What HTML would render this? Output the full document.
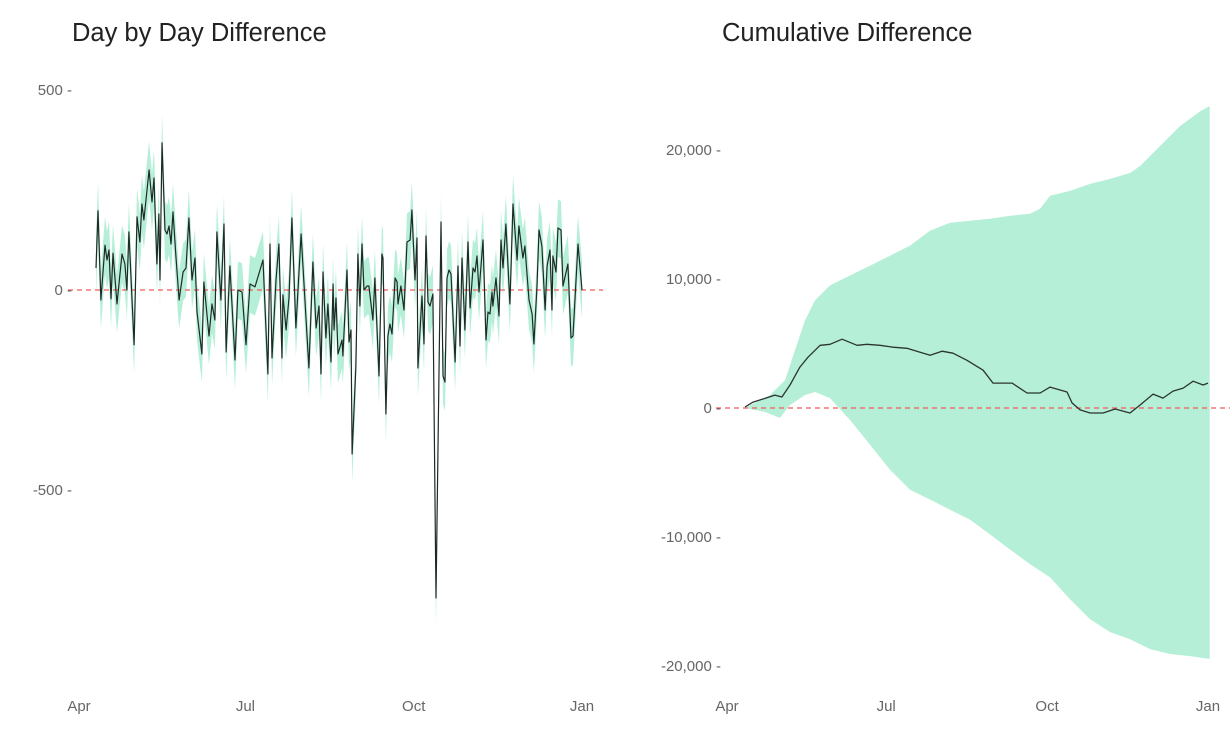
<!DOCTYPE html>
<html><head><meta charset="utf-8">
<style>
html,body{margin:0;padding:0;background:#fff;}
svg{display:block;font-family:"Liberation Sans",sans-serif;}
.tick{fill:#666;font-size:15px;}
.title{fill:#222;font-size:25.5px;}
</style></head>
<body>
<svg id="chart" width="1230" height="738"></svg>
<script>
// ---- Left chart data (days since Apr 1) ----
const dailyDays=[9.3,10.4,12.0,14.2,15.3,16.4,17.5,18.6,20.8,23.5,25.1,26.2,27.3,30.1,31.7,33.3,34.4,35.5,38.3,39.9,41,42.6,43.7,44.3,45.4,47,48.1,49.2,50.3,51.4,53,54.7,56.9,58.5,60.1,61.8,63.4,64.5,67.2,68.3,71.1,72.7,74.3,75.4,77.6,79.3,80.4,82.5,85.3,86.9,89.1,91.3,93.5,96.2,100.6,103.3,104.4,105.5,107.7,109.3,111,111.5,113.2,114.8,116.4,118.6,121.4,123,125.7,127.9,129.6,131.2,132.3,133.4,135,136.1,137.8,138.9,139.4,140.5,141.6,143.8,144.3,146.5,147.6,148.7,149.3,151.4,152.5,153.6,154.7,155.8,157.5,158.5,160.7,161.8,164,165.6,166.2,167.8,168.9,170,171.1,172.8,173.9,174.4,176,177.7,179.3,181,182,183.7,184.8,185.3,187.5,188.6,189.7,190.8,191.9,193.5,195.2,197.9,199,200.1,201.2,202.3,203.4,205.6,207.2,208.3,209.4,211,212.7,213.8,215.4,216.5,217.6,218.7,220.9,222.5,223.6,224.7,225.8,226.3,228,229.6,230.7,231.8,233.4,235.6,237.3,239.5,240.5,242.7,243.8,246,247.7,248.7,250.4,251.5,253.1,254.8,255.9,257.5,258.6,259.1,260.8,261.9,263.5,264.6,267.3,269,270.1,272.8,275];
const dailyValues=[55,198,-25,112,75,100,-22,92,-35,90,65,0,145,-137,183,120,215,175,300,220,280,65,190,25,368,150,140,160,115,195,85,-25,45,55,180,25,80,-55,-160,20,-115,-35,-75,145,-25,165,-155,60,-175,0,-5,-137,15,8,75,-210,115,-170,25,115,-170,-12,-100,-20,180,-95,140,15,-195,70,-95,-40,-210,45,-120,-35,-180,15,-100,-20,-160,-125,-165,50,-130,-100,-410,-190,90,-40,115,0,10,10,-75,30,-215,90,80,-310,-115,-85,-110,30,20,-35,10,-50,120,125,200,25,130,-195,-15,-135,135,-30,-40,-10,-770,170,-215,-230,30,50,40,-180,60,-140,80,-100,120,-45,55,45,85,-5,125,-125,-55,-60,-5,-40,30,-65,125,55,165,-35,215,75,160,80,110,-25,-60,-135,10,150,110,-50,60,100,-50,85,45,155,150,10,65,-120,-115,115,0];
const dailyBandHalf=72;
const leftYTicks=[500,0,-500];
const xTickLabels=["Apr","Jul","Oct","Jan"];
const xTickDays=[0,91,183,275];

// ---- Right chart data ----
const cumDays=[10.3,14.9,20.6,27.4,31.4,36,41.7,46.3,53.2,58.9,65.8,74.3,80,87.5,94.9,102.9,110.4,116.1,122.9,129.2,137.2,146.4,152.1,163,171.5,179,184.7,194.4,197.3,201.9,207.6,215,221.9,230.4,236.2,243.6,249.3,255,260.8,266.5,272.2,275];
const cumValues=[80,460,700,1000,850,1780,3170,3940,4860,4940,5330,4860,4940,4860,4710,4630,4320,4090,4400,4250,3700,2930,1930,1930,1160,1160,1620,1240,390,-150,-390,-390,-80,-390,230,1080,770,1310,1540,2080,1780,1930];
const upperDays=[10.3,24.6,33.2,38.9,44.6,50.3,58.9,70.3,81.8,93.2,104.6,116.1,127.5,138.9,150.4,161.8,173.3,179,184.7,196.1,207.6,219,230.4,236.2,247.6,259,270.5,276];
const upperValues=[0,1000,2160,4480,6790,8340,9500,10270,11040,11810,12590,13750,14360,14520,14670,14900,15060,15440,16450,16830,17370,17760,18220,18760,20310,21850,23010,23400];
const lowerDays=[10.3,21.7,30.3,36,44.6,50.3,58.9,70.3,81.8,93.2,104.6,116.1,127.5,138.9,150.4,161.8,173.3,184.7,196.1,207.6,219,230.4,241.9,253.3,264.8,276];
const lowerValues=[0,-310,-770,230,1000,1240,770,-930,-2860,-4790,-6330,-7100,-7880,-8650,-9810,-10970,-12120,-13130,-14830,-16370,-17370,-17920,-18690,-19070,-19230,-19460];
const rightYTicks=[20000,10000,0,-10000,-20000];

const NS="http://www.w3.org/2000/svg";
const svg=document.getElementById('chart');
function mk(tag,attrs,parent){const e=document.createElementNS(NS,tag);for(const k in attrs)e.setAttribute(k,attrs[k]);(parent||svg).appendChild(e);return e;}

const lx=d=>79+d*(582-79)/275;
const ly=v=>290-v*0.4;
const rx=d=>727+d*(1208-727)/275;
const ry=v=>408-v*(408-279)/10000;

// ---- Left chart ----
const gL=mk('g',{});


const tL=mk('text',{x:72,y:41,class:'title'},gL);tL.textContent='Day by Day Difference';


let up='',lo='';
dailyDays.forEach((d,i)=>{up+=(i?'L':'M')+lx(d).toFixed(1)+','+ly(dailyValues[i]+dailyBandHalf).toFixed(1);});
for(let i=dailyDays.length-1;i>=0;i--){lo+='L'+lx(dailyDays[i]).toFixed(1)+','+ly(dailyValues[i]-dailyBandHalf).toFixed(1);}
const bandL=mk('path',{d:up+lo+'Z',fill:'#b6efd8'},gL);


const zl=mk('line',{x1:68,x2:603,y1:ly(0),y2:ly(0),stroke:'#f25a5a','stroke-width':1.2,'stroke-dasharray':'5,4'},gL);


let dl='';dailyDays.forEach((d,i)=>{dl+=(i?'L':'M')+lx(d).toFixed(1)+','+ly(dailyValues[i]).toFixed(1);});
const lineL=mk('path',{d:dl,fill:'none',stroke:'#1e2a26','stroke-width':1.2,'stroke-linejoin':'round'},gL);


leftYTicks.forEach(v=>{const t=mk('text',{x:72,y:ly(v)+5,class:'tick','text-anchor':'end'},gL);t.textContent=v+' -';

});
xTickLabels.forEach((s,i)=>{const t=mk('text',{x:lx(xTickDays[i]),y:711,class:'tick','text-anchor':'middle'},gL);t.textContent=s;

});

// ---- Right chart ----
const gR=mk('g',{});


const tR=mk('text',{x:722,y:41,class:'title'},gR);tR.textContent='Cumulative Difference';


let bp='';upperDays.forEach((d,i)=>{bp+=(i?'L':'M')+rx(d).toFixed(1)+','+ry(upperValues[i]).toFixed(1);});
for(let i=lowerDays.length-1;i>=0;i--){bp+='L'+rx(lowerDays[i]).toFixed(1)+','+ry(lowerValues[i]).toFixed(1);}
const bandR=mk('path',{d:bp+'Z',fill:'#b6efd8'},gR);


const zr=mk('line',{x1:716,x2:1230,y1:ry(0),y2:ry(0),stroke:'#f25a5a','stroke-width':1.2,'stroke-dasharray':'5,4'},gR);


let cl='';cumDays.forEach((d,i)=>{cl+=(i?'L':'M')+rx(d).toFixed(1)+','+ry(cumValues[i]).toFixed(1);});
const lineR=mk('path',{d:cl,fill:'none',stroke:'#2a3430','stroke-width':1.3,'stroke-linejoin':'round'},gR);


rightYTicks.forEach(v=>{const t=mk('text',{x:721,y:ry(v)+5,class:'tick','text-anchor':'end'},gR);t.textContent=v.toLocaleString('en-US')+' -';

});
xTickLabels.forEach((s,i)=>{const t=mk('text',{x:rx(xTickDays[i]),y:711,class:'tick','text-anchor':'middle'},gR);t.textContent=s;

});
</script>
</body></html>
